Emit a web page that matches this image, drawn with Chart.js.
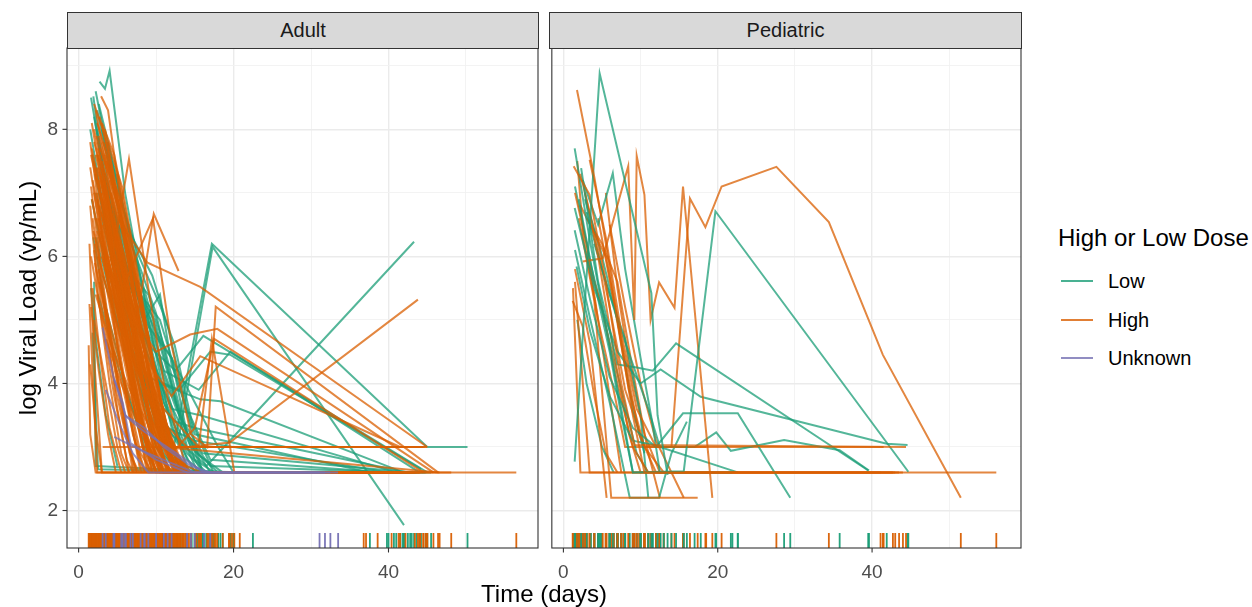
<!DOCTYPE html>
<html>
<head>
<meta charset="utf-8">
<script src="https://cdn.jsdelivr.net/npm/chart.js@4.4.1/dist/chart.umd.min.js"></script>
<style>
  body { margin: 0; background: #fff; }
  #wrap { position: relative; width: 1252px; height: 607px; overflow: hidden;
          font-family: "Liberation Sans", Arial, sans-serif; }
  canvas { position: absolute; top: 0; }
  .strip { position: absolute; top: 12px; height: 37px; box-sizing: border-box;
           background: #D9D9D9; border: 1.1px solid #333; text-align: center;
           line-height: 35px; font-size: 20px; color: #1A1A1A; }
  .xtitle { position: absolute; left: 400px; width: 288px; top: 580px; text-align: center;
            font-size: 24px; line-height: 28px; color: #000; }
  .ltitle { position: absolute; left: 1058px; top: 223px; font-size: 24px; line-height: 29px; color: #000; white-space: nowrap; }
  .lkey { position: absolute; left: 1061px; width: 32px; height: 2px; }
  .llab { position: absolute; left: 1108px; font-size: 20px; line-height: 24px; color: #000; }
</style>
</head>
<body>
<div id="wrap">
  <canvas id="adult" width="545" height="607" style="left:0;width:545px;height:607px"></canvas>
  <canvas id="ped" width="485" height="607" style="left:545px;width:485px;height:607px"></canvas>
  <div class="strip" style="left:67px;width:472px">Adult</div>
  <div class="strip" style="left:549px;width:473px">Pediatric</div>
  <div class="xtitle">Time (days)</div>
  <div class="ltitle">High or Low Dose</div>
  <div id="legendItems"></div>
</div>
<script>
// axis setup
var xGrid = [0, 10, 20, 30, 40, 50];
var xLabels = [0, 20, 40];
var yGrid = [2, 3, 4, 5, 6, 7, 8, 9];
var yLabels = [2, 4, 6, 8];
var xMin = -1.5, xMax = 59.3;
var yMin = 1.41, yMax = 9.28;

var doseNames = ['Low', 'High', 'Unknown'];
var doseColors = ['#1B9E77', '#D95F02', '#7570B3'];

// each patient: [day, log viral load] pairs
var adultHigh = [
  [[1.4,5.25],[2.4,2.6],[20.8,2.6]],
  [[1.5,7.8],[3,6.4],[5,4.6],[7,3.2],[8.5,2.6]],
  [[1.6,7.1],[2.8,5.9],[4.5,4.4],[6.5,3.0],[7.5,2.6]],
  [[1.7,8.1],[3.2,7.0],[5.2,5.3],[7.5,3.7],[9.5,2.6]],
  [[3.2,7.2],[4.5,6.1],[6.5,7.53],[9,5.5],[11,4.0],[14,2.6]],
  [[1.8,6.6],[3.5,5.2],[5.5,3.8],[7,2.6]],
  [[1.9,7.5],[3.5,6.6],[5.5,5.0],[8,3.3],[10,2.6]],
  [[2.5,7.4],[5,5.9],[7,4.6],[9.7,6.67],[12.9,5.77]],
  [[2.0,8.0],[4,6.8],[6,5.2],[8,3.8],[10.5,2.6],[44,2.6]],
  [[2.1,6.2],[3.5,5.0],[5,3.6],[6.5,2.6]],
  [[3,6.9],[6,5.6],[9.6,6.6],[12,4.6],[14.5,3.2],[16.6,3.0],[17.7,5.21],[46.4,2.6]],
  [[2.2,7.3],[4.2,6.1],[6.5,4.6],[9,3.1],[11,2.6]],
  [[2.3,7.9],[4,7.2],[6,5.9],[8,4.3],[10,3.0],[12,2.6]],
  [[2.5,7.7],[5,6.6],[8.9,5.9],[15.7,5.52],[45,3.0]],
  [[2.4,6.9],[4,5.5],[6,4.0],[8,2.9],[9.5,2.6]],
  [[2.5,7.6],[4.5,6.5],[6.8,5.0],[9,3.6],[11.5,2.6]],
  [[3,7.0],[6,5.2],[10,4.5],[14.4,4.77],[17.9,4.86],[45.8,2.6]],
  [[2.6,5.8],[4,4.7],[5.8,3.4],[7.5,2.6]],
  [[2.7,8.2],[4.3,7.4],[6,6.2],[8.2,4.7],[10.3,3.3],[12.5,2.6]],
  [[3.5,6.4],[7,4.6],[11,3.6],[15.5,3.0],[17.2,4.7],[20.1,2.6]],
  [[2.8,7.0],[5,5.8],[7,4.2],[9,3.0],[10.5,2.6]],
  [[2.9,8.52],[3.8,8.3],[5.5,6.8],[7.5,5.0],[9.5,3.5],[11.5,2.6]],
  [[4,6.0],[8,4.5],[12,3.8],[15.7,4.43],[41.5,3.0]],
  [[3.0,7.4],[5,6.2],[7.2,4.6],[9.5,3.2],[12,2.6]],
  [[3.1,6.5],[5,5.2],[7,3.9],[8.8,2.6]],
  [[2.7,6.8],[6,5.0],[9,3.5],[12,2.9],[15,3.3],[17.5,4.7],[44.5,2.6]],
  [[3.2,7.8],[5.3,6.7],[7.6,5.1],[10,3.5],[12.5,2.6]],
  [[3.4,8.0],[5,7.0],[7,5.6],[9,4.2],[11,3.0],[13,2.6]],
  [[4,6.5],[7,4.0],[10,2.6],[56.5,2.6]],
  [[1.5,6.8],[2.5,5.4],[4,4.0],[5.5,2.9],[6.5,2.6]],
  [[1.6,7.6],[3,6.8],[5,5.6],[7,4.2],[9,2.9],[10,2.6]],
  [[5,7.3],[8,5.2],[11,3.5],[13,2.6],[48.1,2.6]],
  [[1.8,5.5],[2.8,4.4],[4,3.3],[5.5,2.6]],
  [[2.0,7.0],[3.5,6.0],[5.5,4.8],[7.5,3.4],[9,2.6]],
  [[3,6.2],[6.5,4.5],[10,3.5],[14,3.0],[19.5,3.07],[43.8,5.32]],
  [[2.2,8.3],[3.3,7.6],[5,6.3],[7,4.9],[9.2,3.4],[11,2.6]],
  [[2.4,6.4],[4.5,5.6],[6.5,4.4],[8.5,3.2],[10.5,2.6]],
  [[4.2,5.5],[7,4.4],[11,3.2],[14,2.6],[36.8,2.6]],
  [[2.6,7.2],[4.6,6.4],[6.6,5.3],[8.8,4.0],[11,3.0],[46.6,2.6]],
  [[2.8,7.7],[4.8,7.0],[7,5.8],[9.4,4.3],[11.5,3.1],[14,2.6]],
  [[3.5,5.2],[6,4.0],[9,3.0],[12,2.6],[37.1,2.6]],
  [[3.0,6.0],[5.2,5.0],[7.5,3.6],[9.5,2.6]],
  [[3.3,7.0],[6,6.0],[8.5,4.5],[10.5,3.2],[13,2.6]],
  [[2.5,6.0],[5,4.9],[8,3.4],[11,2.6],[38.6,2.6]],
  [[3.6,7.5],[5.5,6.6],[8,5.0],[10.8,3.4],[13.5,2.6]],
  [[4.0,7.2],[6,6.4],[8,5.3],[10,4.0],[12,3.0],[14.5,2.6]],
  [[1.5,4.3],[2.2,3.3],[3,2.6]],
  [[2.0,5.0],[3.5,4.0],[5,3.0],[6,2.6]],
  [[3.1,3.0],[8,3.0],[44.8,3.0]],
  [[4.5,6.5],[6.5,5.5],[9,4.3],[11.5,3.0],[44.5,3.0]],
  [[5,5.8],[7.5,4.8],[10,3.6],[12.5,3.0],[45,3.0]],
  [[1.5,7.4],[2.6,6.5],[4.2,5.2],[6,3.9],[8,2.6]],
  [[1.6,6.0],[3,5.0],[4.6,3.8],[6.2,2.8],[7,2.6]],
  [[1.7,7.7],[3,6.9],[4.8,5.7],[6.8,4.3],[8.8,3.0],[10,2.6]],
  [[1.8,7.2],[3.3,6.3],[5.2,5.0],[7.2,3.6],[9.2,2.6]],
  [[1.9,6.4],[3.6,5.5],[5.6,4.2],[7.6,3.0],[8.6,2.6]],
  [[2.0,7.8],[3.8,7.0],[5.8,5.6],[7.8,4.2],[9.8,3.0],[11,2.6]],
  [[2.1,5.9],[3.8,4.9],[5.6,3.7],[7.2,2.6]],
  [[2.2,7.6],[3.6,6.9],[5.4,5.8],[7.4,4.5],[9.6,3.3],[11.8,2.6]],
  [[2.3,6.6],[4,5.7],[6,4.6],[8.2,3.4],[10,2.6]],
  [[2.4,8.1],[3.9,7.5],[5.8,6.4],[7.8,5.0],[9.8,3.7],[12.2,2.6]],
  [[2.5,6.3],[4.3,5.3],[6.3,4.1],[8.3,3.0],[9.8,2.6]],
  [[2.6,7.9],[4.4,7.1],[6.4,5.9],[8.6,4.5],[10.8,3.2],[13,2.6]],
  [[2.7,5.6],[4.5,4.6],[6.5,3.5],[8.2,2.6]],
  [[2.8,7.3],[4.7,6.5],[6.7,5.4],[8.8,4.1],[11,2.8],[12,2.6]],
  [[2.9,6.7],[5,5.9],[7.2,4.7],[9.4,3.4],[11.4,2.6]],
  [[3.0,8.1],[4.6,7.6],[6.4,6.5],[8.4,5.1],[10.4,3.8],[12.6,2.6]],
  [[3.2,6.2],[5.2,5.4],[7.4,4.2],[9.6,3.0],[11,2.6]],
  [[3.4,7.6],[5.6,6.8],[7.8,5.5],[10,4.1],[12.2,2.9],[13.5,2.6]],
  [[3.6,6.8],[5.8,6.0],[8.2,4.8],[10.4,3.5],[12.6,2.6]],
  [[3.8,5.9],[6,5.1],[8.4,3.9],[10.6,2.9],[11.8,2.6]],
  [[4.2,7.0],[6.4,6.1],[8.6,4.9],[10.8,3.6],[13.2,2.6]],
  [[1.6,5.2],[2.6,4.2],[3.8,3.2],[4.8,2.6]],
  [[2.0,6.1],[3.2,5.0],[4.8,3.9],[6.6,2.9],[7.8,2.6]],
  [[2.4,7.0],[3.8,6.2],[5.4,5.2],[7.2,4.0],[9,2.9],[10.2,2.6]],
  [[2.8,6.4],[4.4,5.7],[6.2,4.8],[8.4,3.6],[10.6,2.6]],
  [[3.0,7.5],[4.2,6.9],[6,5.8],[8,4.5],[10.2,3.2],[12.4,2.6]],
  [[5.5,6.0],[7.5,5.0],[9.5,4.0],[11.5,3.0],[13,2.6]],
  [[1.3,4.6],[1.5,3.2],[2.2,2.6],[9.3,2.6],[15.2,2.6]],
  [[1.4,6.2],[2,4.4],[3,2.6],[12.7,2.6]],
  [[2.6,6.6],[4.8,5.4],[7,4.5],[9.2,3.7],[11.2,2.9],[13.4,2.6],[18.6,2.6]],
  [[3.2,6.9],[5.4,5.9],[7.6,4.9],[9.8,3.9],[11.6,3.1],[14.2,2.6],[19.4,2.6],[42.2,2.6]],
  [[2.2,5.4],[4.2,4.6],[6.6,3.9],[8.8,3.4],[10.8,2.8],[12,2.6],[40.4,2.6]],
  [[3.8,7.8],[5.6,7.1],[7.4,5.9],[9.2,4.6],[11.2,3.4],[13.8,2.6],[16.8,2.6]],
  [[2.0,8.4],[3.4,7.9],[5.2,6.8],[7.2,5.4],[9.2,4.0],[11.4,3.0],[12.8,2.6],[43.4,2.6]],
  [[4.4,6.1],[6.6,5.0],[8.8,4.0],[10.6,3.4],[12.2,2.8],[15.8,2.6]],
  [[1.7,6.9],[2.9,6.2],[4.9,5.0],[6.9,3.9],[9.1,3.0],[10.9,2.6],[44.1,2.6]],
  [[5.2,6.9],[7.2,5.8],[9.4,4.5],[11.4,3.3],[13.6,2.6],[19.8,2.6]],
  [[2.3,7.4],[4.1,6.7],[6.1,5.5],[8.1,4.3],[10.1,3.4],[12.4,2.6],[17.2,2.6]],
  [[3.5,4.7],[5.5,4.0],[7.5,3.4],[9.5,3.0],[11.3,2.6],[41.3,2.6]],
  [[2.9,7.2],[4.7,6.4],[6.9,5.1],[9.1,3.8],[10.4,3.2],[12.6,2.6]]
];

var adultLow = [
  [[2.7,8.75],[3.4,8.64],[4.0,8.92],[6,7.0],[9,5.0],[12,3.3],[15,2.6]],
  [[1.9,8.52],[4,6.6],[7,4.5],[10,3.0],[13,2.6]],
  [[2,8.2],[5,6.0],[8,4.2],[12.3,3.0],[17.2,6.2],[45,3.0],[50.2,3.0]],
  [[2.3,8.0],[5,6.5],[8,5.2],[11,3.8],[14,2.8],[16,2.6]],
  [[2.8,7.4],[6,5.3],[10,3.6],[12.8,3.05],[17.3,6.15],[42,1.77]],
  [[2.2,7.0],[4.5,5.8],[8,5.4],[10.5,5.0],[13,4.0],[16,2.6]],
  [[1.8,4.8],[2.5,2.65],[22.5,2.6]],
  [[3,6.8],[7,4.4],[12,3.2],[16.5,2.7],[43.3,6.23]],
  [[2.5,7.8],[6,5.5],[9,4.6],[12.5,4.2],[16.1,4.75],[45,2.6]],
  [[3,8.0],[7,5.8],[11,4.2],[15.5,3.9],[19.6,4.5],[44,2.6]],
  [[3.5,7.2],[7,5.0],[10.5,4.0],[15.7,3.75],[18.3,3.72],[41.5,2.62]],
  [[2.4,7.6],[5.5,6.2],[9,4.4],[12,3.6],[15.7,3.5],[41,2.6]],
  [[3.2,6.6],[6.5,5.0],[9.5,3.8],[12.5,3.4],[15,3.3],[42.5,2.6]],
  [[2.1,7.3],[5,5.6],[8.5,4.0],[11.5,3.3],[15,3.1],[40,2.6]],
  [[4,7.6],[7.5,5.9],[10.5,4.6],[13,3.5],[16,2.9],[43,2.6]],
  [[2.6,8.4],[5,7.2],[8,5.6],[11,4.2],[14,3.2],[17,2.6],[45.5,2.6]],
  [[1.7,6.9],[4,5.5],[7,4.4],[10,3.4],[13.5,2.6]],
  [[3.7,7.8],[6.5,6.4],[9.5,5.7],[11.5,4.9],[14,3.6],[17,2.8],[39.8,2.6]],
  [[2,5.6],[2.2,2.7],[20,2.6]],
  [[1.6,8.5],[3,7.5],[5.5,5.8],[8.5,4.0],[11,2.9],[13,2.6]],
  [[4.5,6.8],[7.5,5.5],[10,4.8],[12,4.4],[15,3.7],[18,3.0],[20,2.6]],
  [[3.3,6.0],[6,4.8],[9,3.9],[12,3.0],[14.5,2.6]],
  [[2.5,5.4],[5,4.3],[8,3.2],[11,2.6]],
  [[5,6.2],[8,5.0],[11,3.7],[14,2.9],[16.5,2.6]],
  [[3,7.1],[6.2,6.2],[8.5,5.0],[10.5,5.4],[12,4.3],[15,3.2],[37.6,2.6]],
  [[2.2,6.3],[5.2,4.9],[9,4.1],[13,3.9],[17,4.5],[19.6,4.45],[44.2,2.65]],
  [[6,5.9],[9,4.9],[12,4.4],[14,3.2],[17,2.7],[42,2.6]],
  [[1.5,8.0],[3,6.9],[5,5.4],[7.5,4.1],[10,3.0],[12,2.6]],
  [[2.2,8.6],[3.8,7.6],[6,6.2],[8.5,4.9],[11,3.7],[14,2.7],[15.5,2.6]],
  [[3.4,7.3],[6.3,5.8],[9,5.4],[11,4.6],[13.5,3.4],[16,2.6]],
  [[1.9,6.3],[3.5,5.2],[6,4.0],[8.5,3.0],[10,2.6]],
  [[4.2,6.5],[7,5.6],[9.8,5.0],[12.2,3.9],[15,2.8],[17.5,2.6]],
  [[2.6,7.0],[5,5.9],[8,4.9],[11,3.9],[14.5,3.0],[18,2.6]],
  [[1.6,5.5],[2.4,4.5],[3.5,3.5],[5,2.7]],
  [[5.5,6.6],[8,5.8],[10,5.1],[12,4.0],[14,3.0],[16,2.6]],
  [[2.4,8.3],[4.6,7.0],[7.4,5.6],[10.2,4.4],[12.8,3.3],[15.4,2.6],[40.7,2.6]],
  [[3.6,6.9],[6.4,5.6],[9.6,4.6],[12.6,3.6],[15.2,2.9],[18.6,2.6],[43.6,2.6]],
  [[1.8,7.6],[4.2,6.2],[7.2,4.7],[10.4,3.5],[13.2,2.6],[44.8,2.6]],
  [[4.8,7.1],[7.8,6.0],[10.6,5.2],[12.4,4.6],[14.6,3.4],[17.4,2.6],[42.8,2.6]],
  [[3.1,5.7],[5.9,4.6],[8.9,3.6],[11.7,2.9],[13.9,2.6],[41.8,2.6]]
];

var adultUnknown = [
  [[3.1,4.88],[4.5,4.1],[6.1,3.48],[8.5,3.24],[12,2.95],[16.2,2.6],[33.5,2.6]],
  [[4.6,4.06],[5.7,3.7],[6.7,3.06],[10,2.8],[14,2.6],[31.1,2.6]],
  [[4.6,3.16],[8,2.95],[11.5,2.77],[15,2.6],[31.8,2.6]],
  [[3.5,3.9],[5.5,3.3],[7,2.9],[9,2.6],[32.5,2.6]],
  [[6,3.5],[8.5,3.3],[11,3.0],[14.5,2.7],[17,2.6]]
];

var pedHigh = [
  [[1.76,8.62],[4,7.25],[5.5,6.2],[7,5.0],[9,3.5],[10.5,2.6],[43,2.6]],
  [[1.33,7.42],[3.4,6.97],[5.5,5.6],[7.5,4.0],[9.2,3.03],[44.4,3.0]],
  [[3.4,7.52],[5.5,6.3],[7.5,4.8],[9.5,3.6],[12,3.0],[18.5,3.0]],
  [[2.5,5.92],[5.1,5.97],[8.4,7.42],[9.2,5.0],[9.5,7.58],[10.5,6.97],[11.3,5.0],[12.4,5.59],[14.4,5.19],[15.5,7.1],[19.3,2.2]],
  [[1.24,5.5],[2.2,2.6],[56.1,2.6]],
  [[1.5,5.6],[3.4,2.6],[42.7,2.6]],
  [[2,6.6],[4,5.3],[6.2,2.2],[17.4,2.2]],
  [[1.5,5.8],[3.5,4.6],[5.6,2.2]],
  [[14,3.0],[16.4,6.91],[18.4,6.46],[20.5,7.1],[27.6,7.41],[34.4,6.54],[41.4,4.45],[51.5,2.2]],
  [[2.8,7.0],[4.5,6.0],[6.5,4.5],[8.5,3.2],[10,2.6],[44,2.6]],
  [[3,6.0],[5,5.2],[7,4.0],[9,3.0],[11,2.6]],
  [[4.5,6.6],[6.5,5.3],[8.5,3.9],[10.5,3.0],[13,2.6]],
  [[1.5,7.0],[3,6.2],[4.5,5.0],[6,3.8],[7.5,2.6]],
  [[2.2,6.8],[5.5,6.0],[7.8,4.5],[9.8,3.2],[12,2.6],[41.1,2.6]],
  [[6,6.5],[8,5.2],[10,4.0],[12,3.1],[15.6,2.2]],
  [[1.8,7.5],[2.6,6.3],[4.5,5.0],[6.5,3.9],[8,3.0],[41.5,3.0]],
  [[5.5,7.0],[7,5.5],[8.5,4.3],[10.5,3.2],[12.5,2.6],[43.5,2.6]],
  [[1.2,5.3],[2.5,4.9],[4,3.8],[5.5,2.9],[7,2.6]],
  [[2.2,7.3],[4,6.4],[6,5.2],[8,3.9],[10.5,3.0],[13,3.0]],
  [[3,6.6],[5,6.2],[7,5.6],[9,4.2],[11,2.9],[12.5,2.2]]
];

var pedLow = [
  [[1.46,2.77],[4.7,8.88],[11.4,5.42],[12.2,3.5],[13.5,2.56]],
  [[1.46,7.7],[3.5,6.2],[5.5,4.9],[7.5,3.6],[9,2.6],[15.6,2.62],[19.7,6.71],[44.7,2.61]],
  [[2.3,7.39],[4.5,5.6],[7,4.3],[9.5,4.25],[11.6,4.2],[14.6,4.63],[39.5,2.63]],
  [[1.46,6.76],[4,5.5],[7,4.5],[10,4.0],[12.6,4.22],[17.8,3.79],[41.9,3.05],[44.6,3.03]],
  [[1.46,6.41],[3.5,5.3],[6,4.1],[9,3.3],[12,3.0],[15.5,3.53],[22.6,3.53],[29.4,2.2]],
  [[1.7,5.84],[3.5,4.8],[6,3.8],[9,3.1],[13,3.0],[17,3.0],[19.8,3.23],[21.7,2.94],[28.6,3.11],[35.8,2.95],[39.6,2.63]],
  [[2.5,7.2],[4.5,6.5],[6.4,7.31],[8,5.8],[10,4.4],[11.5,3.4],[12.5,2.6]],
  [[1.5,6.1],[3.5,5.0],[6,3.7],[8.6,2.2],[12.4,2.2],[14,2.9],[16,3.4]],
  [[2,6.9],[4,5.6],[6,4.5],[7.5,3.5],[9,2.6],[21.9,2.6]],
  [[3,6.7],[5,5.8],[7,5.0],[9,4.3],[11,3.6],[12.5,3.0],[22.6,2.6]],
  [[1.8,5.0],[3,4.0],[5,3.0],[6.5,2.6]],
  [[4,6.2],[6,5.4],[8,4.7],[10,3.5],[11,2.2]],
  [[1.5,7.1],[3.5,5.9],[5.5,4.9],[7.5,3.9],[9.5,2.9],[11,2.6]],
  [[2.8,6.9],[4.8,6.1],[7,5.0],[9,3.6],[10.5,2.9]]
];

var fontFamily = '"Liberation Sans", Arial, sans-serif';
Chart.defaults.font.family = fontFamily;

function withAlpha(hex, a) {
  var r = parseInt(hex.slice(1, 3), 16), g = parseInt(hex.slice(3, 5), 16), b = parseInt(hex.slice(5, 7), 16);
  return 'rgba(' + r + ',' + g + ',' + b + ',' + a + ')';
}

function makeSet(line, dose) {
  return {
    data: line.map(function (p) { return { x: p[0], y: p[1] }; }),
    borderColor: withAlpha(doseColors[dose], 0.75),
    rugColor: withAlpha(doseColors[dose], 0.95),
    borderWidth: 2,
    pointRadius: 0,
    fill: false,
    tension: 0
  };
}

// groups listed first end up on top (dataset 0 is drawn last)
function stackSets(groups) {
  var sets = [];
  groups.forEach(function (g) {
    g[0].forEach(function (line) { sets.push(makeSet(line, g[1])); });
  });
  return sets;
}

// alternate the groups so neither colour is always on top
function mixSets(groups) {
  var sets = [];
  var longest = Math.max.apply(null, groups.map(function (g) { return g[0].length; }));
  for (var i = 0; i < longest; i++) {
    groups.forEach(function (g) {
      if (g[0][i]) sets.push(makeSet(g[0][i], g[1]));
    });
  }
  return sets;
}

// rug, panel border and tick marks
var framePlugin = {
  id: 'frame',
  afterDatasetsDraw: function (chart, args, opts) {
    var ctx = chart.ctx, a = chart.chartArea, xs = chart.scales.x, ys = chart.scales.y;
    var rugLen = (a.bottom - a.top) * 0.03;
    ctx.save();
    ctx.beginPath();
    ctx.rect(a.left, a.top, a.right - a.left, a.bottom - a.top);
    ctx.clip();
    ctx.lineWidth = 1.8;
    for (var i = chart.data.datasets.length - 1; i >= 0; i--) {
      var ds = chart.data.datasets[i];
      ctx.strokeStyle = ds.rugColor;
      ds.data.forEach(function (p) {
        var px = xs.getPixelForValue(p.x);
        ctx.beginPath();
        ctx.moveTo(px, a.bottom);
        ctx.lineTo(px, a.bottom - rugLen);
        ctx.stroke();
      });
    }
    ctx.restore();

    ctx.save();
    ctx.strokeStyle = '#333333';
    ctx.lineWidth = 1.1;
    ctx.strokeRect(a.left, a.top, a.right - a.left, a.bottom - a.top);
    xLabels.forEach(function (v) {
      var px = xs.getPixelForValue(v);
      ctx.beginPath(); ctx.moveTo(px, a.bottom); ctx.lineTo(px, a.bottom + 4.5); ctx.stroke();
    });
    if (opts.yTicks) {
      yLabels.forEach(function (v) {
        var py = ys.getPixelForValue(v);
        ctx.beginPath(); ctx.moveTo(a.left - 4.5, py); ctx.lineTo(a.left, py); ctx.stroke();
      });
    }
    ctx.restore();
  }
};

function gridStyle(majors) {
  return {
    drawTicks: false,
    color: function (c) { return majors.indexOf(c.tick.value) >= 0 ? '#EBEBEB' : '#F2F2F2'; },
    lineWidth: function (c) { return majors.indexOf(c.tick.value) >= 0 ? 1.4 : 0.9; }
  };
}

function panelOptions(showY, yWidth, padRight) {
  var yScale = {
    type: 'linear', min: yMin, max: yMax,
    afterBuildTicks: function (s) { s.ticks = yGrid.map(function (v) { return { value: v }; }); },
    afterFit: function (s) { s.width = yWidth; },
    grid: gridStyle(yLabels),
    border: { display: false },
    ticks: {
      display: showY, autoSkip: false, padding: 9, color: '#4D4D4D', font: { size: 19 },
      callback: function (v) { return yLabels.indexOf(v) >= 0 ? String(v) : ''; }
    },
    title: {
      display: showY, text: 'log Viral Load (vp/mL)', color: '#000',
      font: { size: 24 }, padding: { top: 15, bottom: 0 }
    }
  };
  return {
    responsive: false,
    animation: false,
    layout: { padding: { top: 48, right: padRight, left: 0, bottom: 0 } },
    plugins: { legend: { display: false }, tooltip: { enabled: false }, frame: { yTicks: showY } },
    scales: {
      x: {
        type: 'linear', min: xMin, max: xMax,
        afterBuildTicks: function (s) { s.ticks = xGrid.map(function (v) { return { value: v }; }); },
        afterFit: function (s) { s.height = 607 - 548; },
        grid: gridStyle(xLabels),
        border: { display: false },
        ticks: {
          autoSkip: false, maxRotation: 0, padding: 13, color: '#4D4D4D', font: { size: 19 },
          callback: function (v) { return xLabels.indexOf(v) >= 0 ? String(v) : ''; }
        }
      },
      y: yScale
    }
  };
}

new Chart(document.getElementById('adult').getContext('2d'), {
  type: 'line',
  data: { datasets: stackSets([[adultUnknown, 2], [adultHigh, 1], [adultLow, 0]]) },
  options: panelOptions(true, 67, 7),
  plugins: [framePlugin]
});

new Chart(document.getElementById('ped').getContext('2d'), {
  type: 'line',
  data: { datasets: mixSets([[pedHigh, 1], [pedLow, 0]]) },
  options: panelOptions(false, 5, 9),
  plugins: [framePlugin]
});

// legend
var legendBox = document.getElementById('legendItems');
var legendY = [281, 320, 358];
doseNames.forEach(function (name, i) {
  var key = document.createElement('div');
  key.className = 'lkey';
  key.style.top = (legendY[i] - 1) + 'px';
  key.style.background = withAlpha(doseColors[i], 0.8);
  legendBox.appendChild(key);
  var lab = document.createElement('div');
  lab.className = 'llab';
  lab.style.top = (legendY[i] - 12) + 'px';
  lab.textContent = name;
  legendBox.appendChild(lab);
});
</script>
</body>
</html>
